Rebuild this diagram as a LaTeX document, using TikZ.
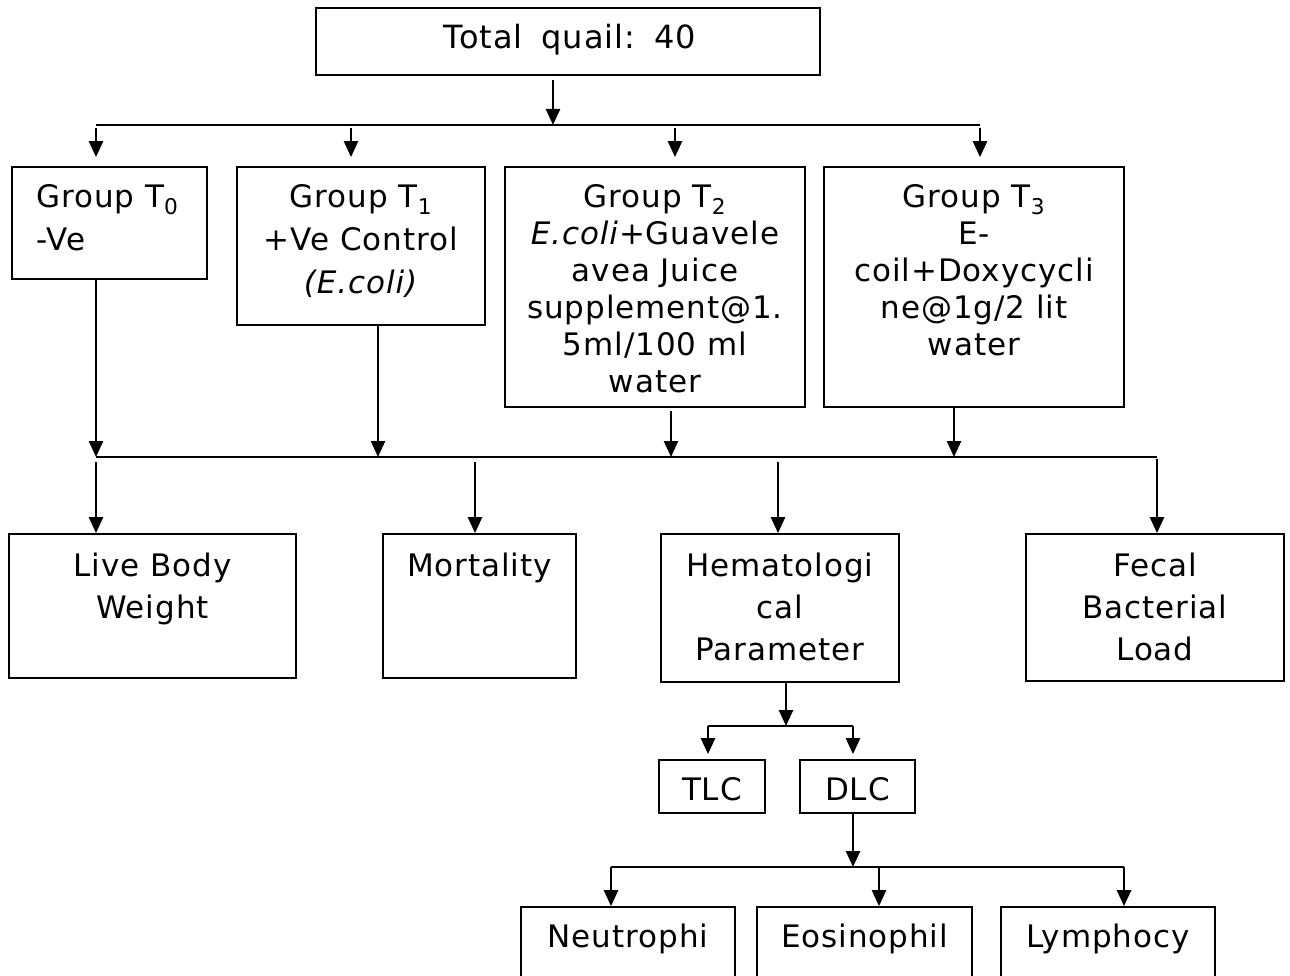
\documentclass[tikz,border=0pt]{standalone}
\usepackage{fontspec}
\setmainfont{DejaVu Sans}[LetterSpace=3.0]
\usetikzlibrary{arrows.meta}
\begin{document}
\begin{tikzpicture}[x=1pt,y=-1pt,
  box/.style={draw, line width=1.7pt, inner sep=0pt},
  txt/.style={inner sep=0pt, align=center, font=\fontsize{31}{42}\selectfont},
  tight/.style={font=\fontsize{31}{37}\selectfont},
  wide/.style={font=\fontsize{31}{43}\selectfont},
  big/.style={font=\fontsize{32}{42}\selectfont},
  bus/.style={line width=1.8pt},
  arr/.style={line width=2.5pt, -{Triangle[length=16pt,width=14pt]}},
]
\useasboundingbox (0,0) rectangle (1290,976);
\clip (0,0) rectangle (1290,976);

% ---- boxes ----
\node[box, minimum width=504pt, minimum height=67pt] (top) at (568,41.5) {};
\node[txt, big, anchor=base] (ttop) at (570,49) {Total\hspace{0.6em}quail:\hspace{0.6em}40};

\node[box, minimum width=195pt, minimum height=112pt] (T0) at (109.5,223) {};
\node[txt, wide, align=left, anchor=north west] (tT0) at (36,184) {Group T\textsubscript{0}\\-Ve};

\node[box, minimum width=248pt, minimum height=158pt] (T1) at (361,246) {};
\node[txt, wide, anchor=north] (tT1) at (361,184) {Group T\textsubscript{1}\\+Ve Control\\\textit{(E.coli)}};

\node[box, minimum width=300pt, minimum height=240pt] (T2) at (655,287) {};
\node[txt, tight, anchor=north] (tT2) at (655,184) {Group T\textsubscript{2}\\\textit{E.coli}+Guavele\\avea Juice\\supplement@1.\\5ml/100 ml\\water};

\node[box, minimum width=300pt, minimum height=240pt] (T3) at (974,287) {};
\node[txt, tight, anchor=north] (tT3) at (974,184) {Group T\textsubscript{3}\\E-\\coil+Doxycycli\\ne@1g/2 lit\\water};

\node[box, minimum width=287pt, minimum height=144pt] (LBW) at (152.5,606) {};
\node[txt, anchor=north] (tLBW) at (152.5,553) {Live Body\\Weight};

\node[box, minimum width=193pt, minimum height=144pt] (Mor) at (479.5,606) {};
\node[txt, anchor=base] (tMor) at (479.5,576) {Mortality};

\node[box, minimum width=238pt, minimum height=148pt] (Hem) at (780,608) {};
\node[txt, anchor=north] (tHem) at (780,553) {Hematologi\\cal\\Parameter};

\node[box, minimum width=258pt, minimum height=147pt] (Fec) at (1155,607.5) {};
\node[txt, anchor=north] (tFec) at (1155,553) {Fecal\\Bacterial\\Load};

\node[box, minimum width=106pt, minimum height=53pt] (TLC) at (712,786.5) {};
\node[txt, anchor=base] (tTLC) at (712,800) {TLC};
\node[box, minimum width=115pt, minimum height=53pt] (DLC) at (857.5,786.5) {};
\node[txt, anchor=base] (tDLC) at (857.5,800) {DLC};

\node[box, minimum width=214pt, minimum height=103pt] (Neu) at (628,958.5) {};
\node[txt, anchor=base] (tNeu) at (628,947) {Neutrophi};
\node[box, minimum width=215pt, minimum height=103pt] (Eos) at (864.5,958.5) {};
\node[txt, anchor=base] (tEos) at (864.5,947) {Eosinophil};
\node[box, minimum width=214pt, minimum height=103pt] (Lym) at (1108,958.5) {};
\node[txt, anchor=base] (tLym) at (1108,947) {Lymphocy};

% ---- bus 1 ----
\coordinate (j1) at (553,125);
\coordinate (d1) at (96,125);
\coordinate (d2) at (351,125);
\coordinate (d3) at (675,125);
\coordinate (d4) at (980,125);
\draw[arr, shorten <=4pt] (top.south -| j1) -- (j1);
\draw[bus] (d1) -- (d4);
\draw[arr, shorten <=3pt, shorten >=9pt] (d1) -- (d1 |- T0.north);
\draw[arr, shorten <=3pt, shorten >=9pt] (d2) -- (d2 |- T1.north);
\draw[arr, shorten <=3pt, shorten >=9pt] (d3) -- (d3 |- T2.north);
\draw[arr, shorten <=3pt, shorten >=9pt] (d4) -- (d4 |- T3.north);

% ---- bus 2 ----
\coordinate (c1) at (96,457);
\coordinate (c2) at (378,457);
\coordinate (c3) at (671,457);
\coordinate (c4) at (954,457);
\coordinate (e2) at (475,457);
\coordinate (e3) at (778,457);
\coordinate (e4) at (1157,457);
\draw[bus] (c1) -- (e4);
\draw[arr] (T0.south -| c1) -- (c1);
\draw[arr] (T1.south -| c2) -- (c2);
\draw[arr, shorten <=3pt] (T2.south -| c3) -- (c3);
\draw[arr] (T3.south -| c4) -- (c4);
\draw[arr, shorten <=5pt] (c1) -- (c1 |- LBW.north);
\draw[arr, shorten <=5pt] (e2) -- (e2 |- Mor.north);
\draw[arr, shorten <=5pt] (e3) -- (e3 |- Hem.north);
\draw[arr, shorten <=2pt] (e4) -- (e4 |- Fec.north);

% ---- hematological branch ----
\coordinate (h) at (786,726);
\coordinate (h1) at (708,726);
\coordinate (h2) at (853,726);
\draw[arr] (Hem.south -| h) -- (h);
\draw[bus] (h1) -- (h2);
\draw[arr, shorten >=5pt] (h1) -- (h1 |- TLC.north);
\draw[arr, shorten >=5pt] (h2) -- (h2 |- DLC.north);

% ---- DLC branch ----
\coordinate (g) at (853,867);
\coordinate (g1) at (611,867);
\coordinate (g2) at (879,867);
\coordinate (g3) at (1124,867);
\draw[arr] (DLC.south -| g) -- (g);
\draw[bus] (g1) -- (g3);
\draw[arr] (g1) -- (g1 |- Neu.north);
\draw[arr] (g2) -- (g2 |- Eos.north);
\draw[arr] (g3) -- (g3 |- Lym.north);
\end{tikzpicture}
\end{document}
